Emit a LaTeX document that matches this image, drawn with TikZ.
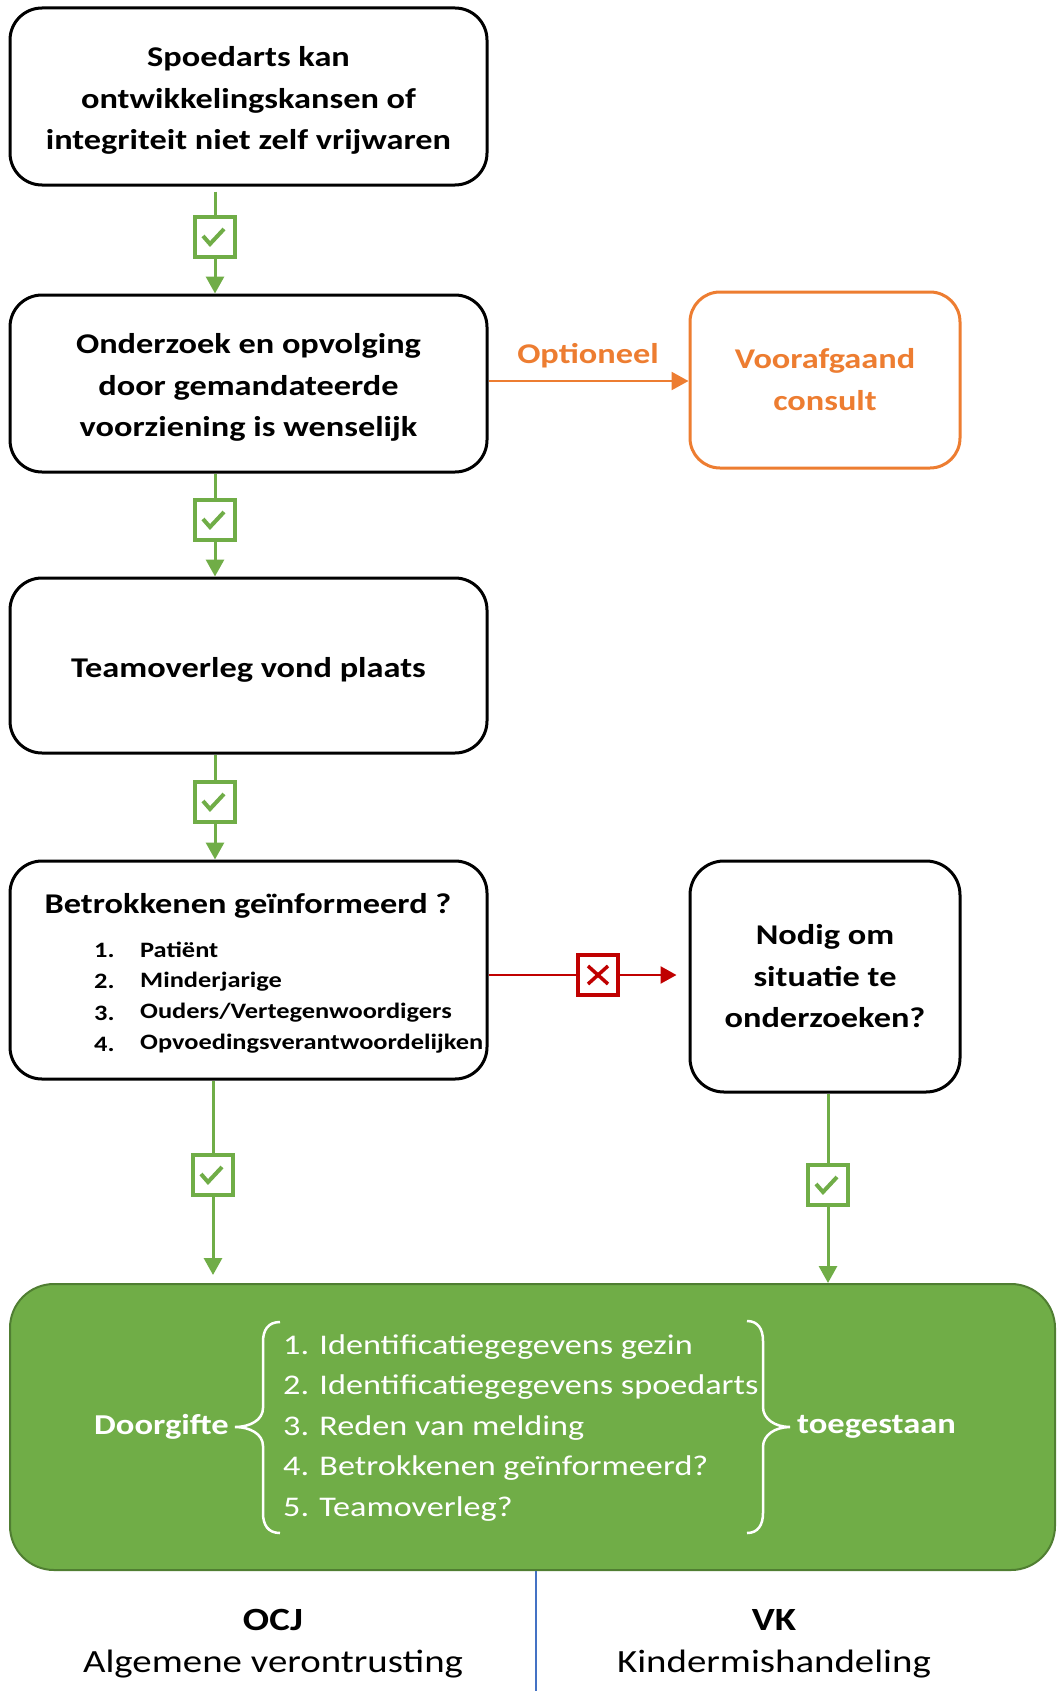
\documentclass[tikz,border=0pt]{standalone}
\usepackage{fontspec}
\setmainfont{Carlito}[FakeStretch=1.2]
\usetikzlibrary{arrows.meta}
\definecolor{okgreen}{HTML}{70AD47}
\definecolor{okgreendark}{HTML}{507E32}
\definecolor{optorange}{HTML}{ED7D31}
\definecolor{nored}{HTML}{C00000}
\definecolor{splitblue}{HTML}{4472C4}
\newcommand{\topstrut}{\rule{0pt}{28pt}}
\tikzset{
  flowbox/.style={draw=black, line width=3pt, rounded corners=32pt, fill=white,
    align=center, inner sep=0pt, font=\fontsize{28.6}{41.5}\selectfont\bfseries},
  orangebox/.style={draw=optorange, line width=3pt, rounded corners=30pt, fill=white,
    align=center, inner sep=0pt, text=optorange, font=\fontsize{28.6}{42}\selectfont\bfseries},
  chkbox/.style={draw=okgreen, line width=4pt, minimum size=40pt, fill=white, inner sep=0pt,
    path picture={\draw[okgreen, line width=4pt]
      ([shift={(-12pt,1pt)}]path picture bounding box.center) -- ++(7pt,-8pt) -- ++(14pt,15pt);}},
  xbox/.style={draw=nored, line width=4pt, minimum size=40pt, fill=white, inner sep=0pt,
    path picture={\draw[nored, line width=3.5pt]
      ([shift={(-10pt,-9pt)}]path picture bounding box.center) -- ++(20pt,18pt)
      ([shift={(-10pt,9pt)}]path picture bounding box.center) -- ++(20pt,-18pt);}},
  gline/.style={draw=okgreen, line width=3pt},
  garrow/.style={gline, -{Triangle[width=18pt,length=17pt]}},
  olist/.style={anchor=west, inner sep=0pt, font=\fontsize{22}{26}\selectfont\bfseries},
  wlist/.style={anchor=west, inner sep=0pt, text=white, font=\fontsize{28.5}{34}\selectfont},
  bracepath/.style={draw=white, line width=2.5pt},
}
\begin{document}
\begin{tikzpicture}[x=1pt, y=-1pt]
\useasboundingbox (0,0) rectangle (1057,1691);

% main boxes
\node[flowbox, minimum width=477pt, minimum height=177pt] (b1) at (248.5,96.5)
  {\topstrut Spoedarts kan\\ontwikkelingskansen of\\integriteit niet zelf vrijwaren};
\node[flowbox, minimum width=477pt, minimum height=177pt] (b2) at (248.5,383.5)
  {\topstrut Onderzoek en opvolging\\door gemandateerde\\voorziening is wenselijk};
\node[flowbox, minimum width=477pt, minimum height=175pt] (b3) at (248.5,665.5)
  {\topstrut Teamoverleg vond plaats};
\node[flowbox, minimum width=477pt, minimum height=218pt] (b4) at (248.5,970) {};
\node[inner sep=0pt, font=\fontsize{28.6}{32}\selectfont\bfseries] (b4t) at (248,906) {Betrokkenen geïnformeerd ?};
\node[olist] (n1) at (94,950) {1.};
\node[olist] (i1) at (140,950) {Patiënt};
\node[olist] (n2) at (94,981.5) {2.};
\node[olist] (i2) at (140,981.5) {Minderjarige};
\node[olist] (n3) at (94,1013) {3.};
\node[olist] (i3) at (140,1013) {Ouders/Vertegenwoordigers};
\node[olist] (n4) at (94,1044) {4.};
\node[olist] (i4) at (140,1044) {Opvoedingsverantwoordelijken};

\node[orangebox, minimum width=270pt, minimum height=176pt] (vc) at (825,380)
  {Voorafgaand\\consult};
\node[flowbox, minimum width=270pt, minimum height=231pt, rounded corners=34pt] (nd) at (825,976.5)
  {Nodig om\\situatie te\\onderzoeken?};

% green result box
\node[draw=okgreendark, line width=2pt, fill=okgreen, rounded corners=44pt,
  minimum width=1045pt, minimum height=286pt] (gr) at (532.5,1427) {};
\node[inner sep=0pt, anchor=east, text=white, font=\fontsize{28.8}{34}\selectfont\bfseries] (dg) at (229,1427) {Doorgifte};
\node[inner sep=0pt, anchor=west, text=white, font=\fontsize{28.8}{34}\selectfont\bfseries] (tg) at (797,1427) {toegestaan};
\node[wlist] (g1) at (283,1347) {1. Identificatiegegevens gezin};
\node[wlist] (g2) at (283,1387.5) {2. Identificatiegegevens spoedarts};
\node[wlist] (g3) at (283,1428) {3. Reden van melding};
\node[wlist] (g4) at (283,1468.5) {4. Betrokkenen geïnformeerd?};
\node[wlist] (g5) at (283,1509) {5. Teamoverleg?};
\draw[bracepath] (280,1322) .. controls (268,1322) and (263,1330) .. (263,1342) -- (263,1408)
  .. controls (263,1420) and (250,1427) .. (235,1427)
  .. controls (250,1427) and (263,1434) .. (263,1446) -- (263,1513)
  .. controls (263,1525) and (268,1533) .. (280,1533);
\draw[bracepath] (747,1321) .. controls (758,1321) and (763,1329) .. (763,1341) -- (763,1407)
  .. controls (763,1419) and (775,1427) .. (790,1427)
  .. controls (775,1427) and (763,1435) .. (763,1447) -- (763,1513)
  .. controls (763,1525) and (758,1533) .. (747,1533);

% check boxes
\node[chkbox] (c1) at (215,237) {};
\node[chkbox] (c2) at (215,520) {};
\node[chkbox] (c3) at (215,802) {};
\node[chkbox] (c4) at (213,1175) {};
\node[chkbox] (c5) at (828,1185) {};
\node[xbox] (x1) at (598,975) {};

% green connectors
\draw[gline] ([yshift=-5pt]c1 |- b1.south) -- (c1.north);
\draw[garrow] (c1.south) -- (c1 |- b2.north);
\draw[gline] (c2 |- b2.south) -- (c2.north);
\draw[garrow] (c2.south) -- (c2 |- b3.north);
\draw[gline] (c3 |- b3.south) -- (c3.north);
\draw[garrow] (c3.south) -- (c3 |- b4.north);
\draw[gline] (c4 |- b4.south) -- (c4.north);
\draw[garrow, shorten >=8pt] (c4.south) -- (c4 |- gr.north);
\draw[gline] (c5 |- nd.south) -- (c5.north);
\draw[garrow] (c5.south) -- (c5 |- gr.north);

% orange connector
\draw[optorange, line width=2.5pt, -{Triangle[width=18pt,length=17pt]}] (b2.east |- 0,381) -- (vc.west |- 0,381);
\node[inner sep=0pt, text=optorange, font=\fontsize{28.6}{32}\selectfont\bfseries] (opt) at (588,356) {Optioneel};

% red connector
\draw[nored, line width=2.5pt] (b4.east |- x1) -- (x1.west);
\draw[nored, line width=2.5pt, -{Triangle[width=17pt,length=16pt]}, shorten >=12pt] (x1.east) -- (nd.west |- x1);

% bottom split
\coordinate (sp) at (536,1691);
\draw[splitblue, line width=1.2pt] (gr.south -| sp) -- (sp);
\node[inner sep=0pt, font=\fontsize{32.4}{38}\selectfont\bfseries] (ocj) at (273,1620) {OCJ};
\node[inner sep=0pt, font=\fontsize{32.4}{38}\selectfont] (alg) at (273,1664) {Algemene verontrusting};
\node[inner sep=0pt, font=\fontsize{32.4}{38}\selectfont\bfseries] (vk) at (774,1620) {VK};
\node[inner sep=0pt, font=\fontsize{32.4}{38}\selectfont] (kin) at (774,1664) {Kindermishandeling};
\end{tikzpicture}
\end{document}
